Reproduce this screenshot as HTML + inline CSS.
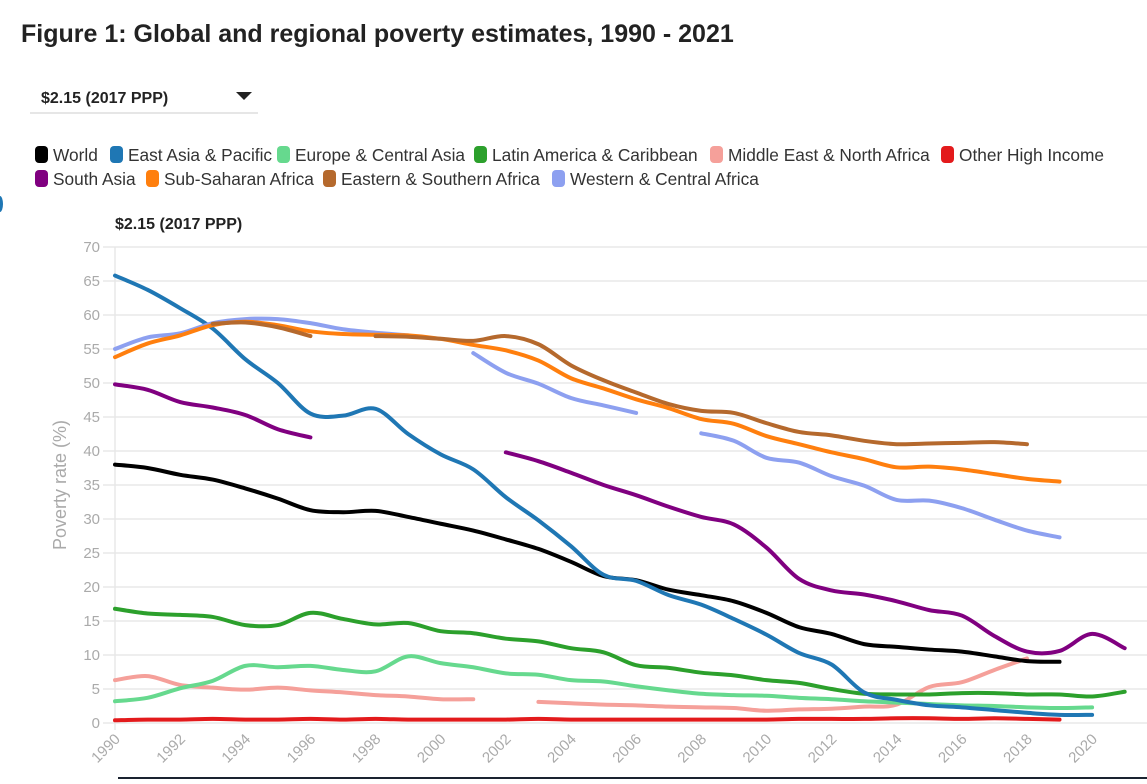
<!DOCTYPE html>
<html><head><meta charset="utf-8"><style>
body{margin:0;background:#fff;width:1147px;height:779px;overflow:hidden;font-family:"Liberation Sans",sans-serif;}
</style></head><body>
<svg id="s" width="1147" height="779" xmlns="http://www.w3.org/2000/svg" font-family="Liberation Sans, sans-serif">
<text x="21" y="42" font-size="25" font-weight="bold" fill="#222">Figure 1: Global and regional poverty estimates, 1990 - 2021</text>
<text x="41" y="103" font-size="16" font-weight="bold" fill="#222">$2.15 (2017 PPP)</text>
<polygon points="236,92 252,92 244,100" fill="#222"/>
<line x1="30" y1="113" x2="258" y2="113" stroke="#ccc" stroke-width="1"/>
<g id="leg" font-size="17.3" fill="#333"></g>
<path d="M0,196 a3,8 0 0 1 0,16" fill="#1f77b4"/>
<text x="115" y="229" font-size="16" font-weight="bold" fill="#222">$2.15 (2017 PPP)</text>
<g id="grid"></g>
<text transform="translate(66,485) rotate(-90)" text-anchor="middle" font-size="18" fill="#aaa">Poverty rate (%)</text>
<g id="lines" fill="none" stroke-width="4" stroke-linecap="round" stroke-linejoin="round"></g>
<rect x="118" y="777" width="1029" height="2" fill="#1a2330"/>
</svg>
<script>
var NS="http://www.w3.org/2000/svg";
function X(y){return 115+32.57*(y-1990);}
function Y(v){return 723-6.8*v;}
function el(t,a,p,txt){var e=document.createElementNS(NS,t);for(var k in a)e.setAttribute(k,a[k]);if(txt!=null)e.textContent=txt;p.appendChild(e);return e;}
var g=document.getElementById('grid');
for(var v=0;v<=70;v+=5){el('line',{x1:103,x2:1147,y1:Y(v),y2:Y(v),stroke:'#e8e8e8','stroke-width':1.5},g);
el('text',{x:100,y:Y(v)+5,'text-anchor':'end','font-size':15,fill:'#aaa'},g,v);}
el('line',{x1:115,x2:115,y1:Y(70),y2:730,stroke:'#e8e8e8','stroke-width':1.5},g);
for(var y=1990;y<=2020;y+=2){el('text',{transform:'translate('+(X(y)+6)+',740) rotate(-45)','text-anchor':'end','font-size':15,fill:'#aaa'},g,y);}
var leg=[["World","#000",35,155],["East Asia & Pacific","#1f77b4",110,155],["Europe & Central Asia","#66d98e",277,155],["Latin America & Caribbean","#2ca02c",474,155],["Middle East & North Africa","#f5a09a",710,155],["Other High Income","#e31a1c",941,155],
["South Asia","#800080",35,179],["Sub-Saharan Africa","#ff7f0e",146,179],["Eastern & Southern Africa","#b5692d",323,179],["Western & Central Africa","#8da0f0",552,179]];
var lg=document.getElementById('leg');
leg.forEach(function(l){el('rect',{x:l[2],y:l[3]-9,width:13,height:17,rx:4,fill:l[1]},lg);el('text',{x:l[2]+18,y:l[3]+6},lg,l[0]);});
function ser(start,vals){return vals.map(function(v,i){return [X(start+i),Y(v)];});}
function path(p){var d="M"+p[0][0]+","+p[0][1];for(var i=0;i<p.length-1;i++){var p0=p[i-1]||p[i],p1=p[i],p2=p[i+1],p3=p[i+2]||p2;var t=6;
d+=" C"+(p1[0]+(p2[0]-p0[0])/t)+","+(p1[1]+(p2[1]-p0[1])/t)+" "+(p2[0]-(p3[0]-p1[0])/t)+","+(p2[1]-(p3[1]-p1[1])/t)+" "+p2[0]+","+p2[1];}return d;}
var S=[
["#e31a1c",[[1990,[0.4,0.5,0.5,0.6,0.5,0.5,0.6,0.5,0.6,0.5,0.5,0.5,0.5,0.6,0.5,0.5,0.5,0.5,0.5,0.5,0.5,0.6,0.6,0.6,0.7,0.7,0.6,0.7,0.6,0.5]]]],
["#f5a09a",[[1990,[6.3,6.9,5.6,5.2,4.9,5.2,4.8,4.5,4.1,3.9,3.5,3.5]],[2003,[3.1,2.9,2.7,2.6,2.4,2.3,2.2,1.8,2.0,2.1,2.4,2.7,5.3,6.0,7.8,9.5]]]],
["#66d98e",[[1990,[3.2,3.7,5.1,6.2,8.4,8.2,8.4,7.8,7.6,9.8,8.8,8.2,7.3,7.1,6.3,6.1,5.4,4.8,4.3,4.1,4.0,3.7,3.5,3.2,3.0,2.8,2.6,2.5,2.3,2.2,2.3]]]],
["#2ca02c",[[1990,[16.8,16.1,15.9,15.6,14.4,14.4,16.2,15.3,14.5,14.7,13.5,13.2,12.4,12.0,11.0,10.4,8.5,8.1,7.4,7.0,6.3,5.9,5.0,4.3,4.2,4.2,4.4,4.4,4.2,4.2,3.9,4.6]]]],
["#000",[[1990,[38,37.5,36.5,35.8,34.5,33,31.3,31,31.2,30.3,29.3,28.3,27,25.6,23.7,21.6,21,19.6,18.8,17.9,16.2,14.1,13.1,11.6,11.2,10.8,10.5,9.8,9.1,9.0]]]],
["#800080",[[1990,[49.8,49,47.2,46.4,45.3,43.2,42]],[2002,[39.8,38.5,36.8,35,33.5,31.8,30.3,29.2,25.8,21.2,19.5,18.9,17.9,16.6,15.8,12.8,10.5,10.6,13.1,11]]]],
["#1f77b4",[[1990,[65.8,63.7,61,58,53.5,50,45.5,45.2,46.2,42.5,39.5,37.3,33.2,29.8,26,21.8,20.9,18.8,17.4,15.3,13,10.3,8.6,4.5,3.4,2.6,2.3,1.9,1.5,1.2,1.2]]]],
["#8da0f0",[[1990,[55,56.7,57.3,58.8,59.4,59.4,58.8,57.9,57.4,57]],[2001,[54.4,51.5,49.9,47.8,46.7,45.6]],[2008,[42.6,41.5,39,38.3,36.3,34.9,32.8,32.7,31.6,29.9,28.3,27.3]]]],
["#ff7f0e",[[1990,[53.8,55.8,57,58.5,59,58.5,57.6,57.2,57.1,57,56.5,55.6,54.8,53.3,50.7,49.2,47.6,46.3,44.7,44.0,42.2,41,39.8,38.8,37.6,37.7,37.3,36.6,35.9,35.5]]]],
["#b5692d",[[1993,[58.7,58.9,58.2,56.9]],[1998,[56.9,56.8,56.5,56.2,56.9,55.7,52.6,50.4,48.6,46.9,45.9,45.6,44.1,42.8,42.3,41.5,41.0,41.1,41.2,41.3,41.0]]]]
];
var L=document.getElementById('lines');
S.forEach(function(s){s[1].forEach(function(seg){el('path',{d:path(ser(seg[0],seg[1])),stroke:s[0]},L);});});
</script>
</body></html>
